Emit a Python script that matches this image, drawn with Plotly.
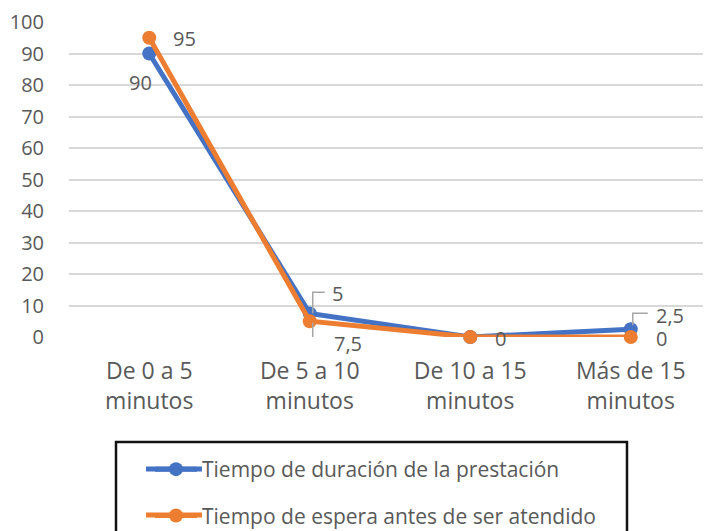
import plotly.graph_objects as go

categories = ["De 0 a 5<br>minutos", "De 5 a 10<br>minutos", "De 10 a 15<br>minutos", "Más de 15<br>minutos"]
duracion = [90, 7.5, 0, 2.5]
espera = [95, 5, 0, 0]
series_names = ["Tiempo de duración de la prestación", "Tiempo de espera antes de ser atendido"]
y_ticks = list(range(0, 101, 10))

BLUE = "#4472C4"
ORANGE = "#ED7D31"
TXT = "#595959"
FONT = "'Open Sans', sans-serif"

# page has an 8px body margin; figure is sized so the plot lands where the reference has it
OFF = 8
L, T, B0 = 69 - OFF, 22 - OFF, 337 - OFF
W, H = 711 - OFF, 531 - OFF
PH = B0 - T
PW = W - L

def px(x):
    return (x - OFF - L) / PW
def py(y):
    return (B0 - (y - OFF)) / PH

def fmt(v):
    return ("%g" % v).replace(".", ",")

fig = go.Figure()

# legend symbol extensions (behind legend symbols)
for col, yy in [(BLUE, 469), (ORANGE, 515)]:
    fig.add_shape(type="line", xref="paper", yref="paper", x0=px(146), x1=px(202), y0=py(yy), y1=py(yy),
                  line=dict(color=col, width=5))

for name, vals, col, grp in [(series_names[0], duracion, BLUE, "a"), (series_names[1], espera, ORANGE, "b")]:
    fig.add_trace(go.Scatter(
        x=categories, y=vals, name=name, mode="lines+markers",
        line=dict(color=col, width=5), marker=dict(color=col, size=14),
        cliponaxis=False, legendgroup=grp,
    ))

# data labels: (series values, index, xshift, yshift)
label_style = [
    (duracion, 0, -9, -29),
    (espera, 0, 35, -1),
    (espera, 1, 28, 28),
    (duracion, 1, 38, -30),
    (espera, 2, 30, -1),
    (duracion, 3, 39, 14),
    (espera, 3, 31, -1),
]
for vals, i, dx, dy in label_style:
    fig.add_annotation(x=categories[i], y=vals[i], text=fmt(vals[i]), showarrow=False,
                       xshift=dx, yshift=dy, font=dict(size=20, color=TXT, family=FONT))

# leader lines (pixel offsets anchored at data points)
leaders = [
    (espera, 1, "M3,8 L3,29 L15,29"),
    (duracion, 1, "M3,-9 L3,-30 L15,-30"),
    (duracion, 3, "M2,4 L2,16 L17,16"),
]
for vals, i, path in leaders:
    fig.add_shape(type="path", xref="x", yref="y", xsizemode="pixel", ysizemode="pixel",
                  xanchor=i, yanchor=vals[i], path=path,
                  line=dict(color="#A6A6A6", width=1.5))

# legend border box
fig.add_shape(type="rect", xref="paper", yref="paper",
              x0=px(116), x1=px(627), y0=py(442), y1=py(545),
              line=dict(color="#111111", width=2.5), fillcolor="rgba(0,0,0,0)")

fig.update_layout(
    width=W, height=H,
    margin=dict(l=L, r=0, t=T, b=H - B0, autoexpand=False),
    paper_bgcolor="white", plot_bgcolor="white",
    font=dict(family=FONT, size=20, color=TXT),
    showlegend=True,
    legend=dict(x=px(150), xanchor="left", y=py(449), yanchor="top",
                bgcolor="rgba(0,0,0,0)", borderwidth=0, traceorder="grouped",
                tracegroupgap=16, itemwidth=42, font=dict(size=21, color=TXT, family=FONT)),
    xaxis=dict(range=[-0.5, 3.5], showgrid=False, zeroline=False, showline=False, automargin=False,
               tickfont=dict(size=23, color=TXT, family=FONT), ticks="", ticklabelstandoff=18),
    yaxis=dict(range=[0, 100], tickvals=y_ticks, showgrid=True, gridcolor="#D9D9D9", gridwidth=1.5,
               zeroline=False, showline=False, automargin=False,
               tickfont=dict(size=20, color=TXT, family=FONT),
               ticks="", ticklabelstandoff=24),
)

fig.write_html("out.html")
